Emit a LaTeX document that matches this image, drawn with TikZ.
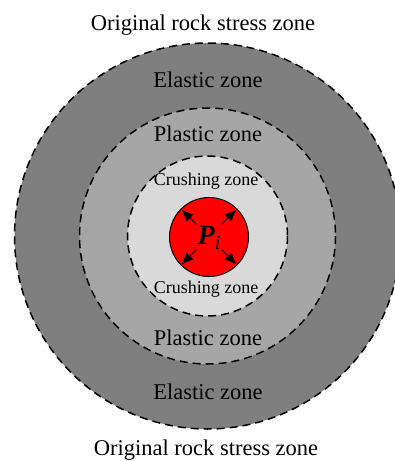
\documentclass[tikz,border=0pt]{standalone}
\usepackage{fontspec}
\setmainfont{Liberation Serif}
\usetikzlibrary{arrows.meta,calc}
\definecolor{elasticgray}{HTML}{7F7F7F}
\definecolor{plasticgray}{HTML}{A6A6A6}
\definecolor{crushgray}{HTML}{D9D9D9}
\begin{document}
\begin{tikzpicture}[x=1pt,y=-1pt,
  zone/.style={draw=black, dash pattern=on 8pt off 5pt, line width=1.5pt},
  lbl/.style={font=\fontsize{22.5}{26}\selectfont, inner sep=0, anchor=base},
  slbl/.style={font=\fontsize{18}{21}\selectfont, inner sep=0, anchor=base},
  pressarrow/.style={line width=1pt, -{Latex[length=12pt,width=10pt]}}]
\useasboundingbox (0,0) rectangle (395,461);
\begin{scope}
\clip (0,0) rectangle (395,461);
\coordinate (c) at (207.5,236);
\coordinate (pc) at (209,237);
\filldraw[zone, fill=elasticgray] (c) circle[radius=193];
\filldraw[zone, fill=plasticgray] (c) circle[radius=128];
\filldraw[zone, fill=crushgray] (c) circle[radius=80];
\filldraw[draw=black, line width=1pt, fill=red] (pc) circle[radius=39.5];
\end{scope}
\foreach \a in {45,135,225,315}
  \draw[pressarrow] ($(pc)+(\a:18)$) -- ($(pc)+(\a:39)$);
\node[inner sep=0, anchor=base, font=\fontsize{28}{30}\selectfont] (p) at (209,244)
  {{\bfseries\itshape P}\raisebox{-5pt}{\itshape\fontsize{20}{20}\selectfont i}};
\node[lbl] (t1) at (203,30) {Original rock stress zone};
\node[lbl] (e1) at (208,87) {Elastic zone};
\node[lbl] (p1) at (208,141) {Plastic zone};
\node[slbl] (c1) at (206,185) {Crushing zone};
\node[slbl] (c2) at (206,293) {Crushing zone};
\node[lbl] (p2) at (208,345) {Plastic zone};
\node[lbl] (e2) at (208,399) {Elastic zone};
\node[lbl] (t2) at (206,455) {Original rock stress zone};
\end{tikzpicture}
\end{document}
